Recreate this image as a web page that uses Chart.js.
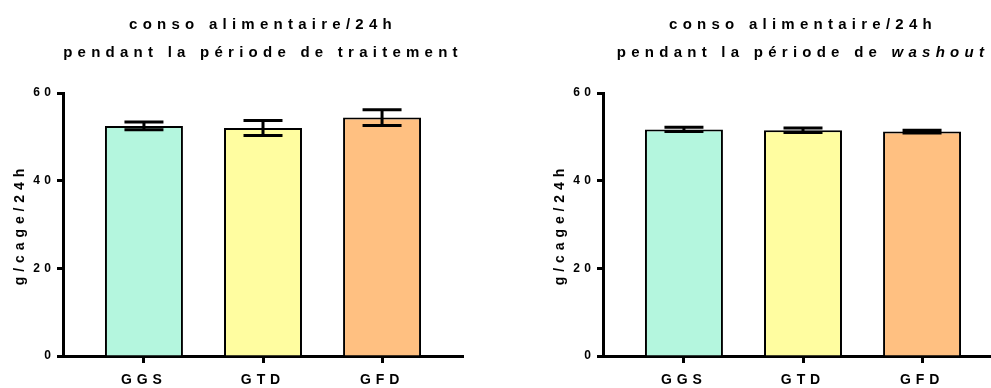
<!DOCTYPE html>
<html>
<head>
<meta charset="utf-8">
<script src="https://cdn.jsdelivr.net/npm/chart.js@4"></script>
<style>
html, body { margin: 0; padding: 0; background: #fff; overflow: hidden; width: 991px; height: 388px; }
.panel { position: absolute; top: 0; width: 480px; height: 388px; }
</style>
</head>
<body>
<div class="panel" style="left:0"><canvas id="chart-treatment" width="480" height="388"></canvas></div>
<div class="panel" style="left:540px"><canvas id="chart-washout" width="480" height="388"></canvas></div>
<script>
// Groups and colours
var groups = ['GGS', 'GTD', 'GFD'];
var group_colors = ['#b4f6de', '#fffda0', '#ffc081'];

// Food intake (g/cage/24h), mean and error bar
var treatment_means = [52.5, 52.0, 54.4];
var treatment_errors = [0.9, 1.7, 1.8];
var washout_means = [51.7, 51.5, 51.2];
var washout_errors = [0.5, 0.5, 0.3];

var y_ticks = [0, 20, 40, 60];
var y_label = 'g/cage/24h';
var treatment_title = [[{ text: 'conso alimentaire/24h' }], [{ text: 'pendant la période de traitement' }]];
var washout_title = [[{ text: 'conso alimentaire/24h' }], [{ text: 'pendant la période de ' }, { text: 'washout', italic: true }]];

var FONT = '"Liberation Sans", Arial, sans-serif';
Chart.defaults.font.family = FONT;
Chart.defaults.font.weight = 'bold';
Chart.defaults.color = '#000';

// wide letter spacing like the original figure
function spacingFor(font) {
    var m = /(\d+(\.\d+)?)px/.exec(font);
    return (m ? parseFloat(m[1]) * 0.35 : 0) + 'px';
}

var spacedText = {
    id: 'spacedText',
    beforeDraw: function (chart) {
        var ctx = chart.ctx;
        if (ctx._spaced) return;
        var fill = ctx.fillText;
        ctx.fillText = function () {
            this.letterSpacing = spacingFor(this.font);
            return fill.apply(this, arguments);
        };
        ctx._spaced = true;
    }
};

// Title with mixed roman / italic pieces
var richTitle = {
    id: 'richTitle',
    afterDraw: function (chart, args, opts) {
        var ctx = chart.ctx, area = chart.chartArea;
        var cx = (area.left + area.right) / 2;
        var fontOf = function (seg) { return (seg.italic ? 'italic ' : '') + 'bold 15px ' + FONT; };
        ctx.save();
        ctx.fillStyle = '#000';
        ctx.textBaseline = 'middle';
        ctx.textAlign = 'left';
        opts.lines.forEach(function (line, i) {
            var w = 0;
            line.forEach(function (seg) {
                ctx.font = fontOf(seg);
                ctx.letterSpacing = spacingFor(ctx.font);
                w += ctx.measureText(seg.text).width;
            });
            var x = cx - w / 2;
            var y = opts.top + i * opts.lineHeight;
            line.forEach(function (seg) {
                ctx.font = fontOf(seg);
                ctx.letterSpacing = spacingFor(ctx.font);
                ctx.fillText(seg.text, x, y);
                x += ctx.measureText(seg.text).width;
            });
        });
        ctx.restore();
    }
};

// Error bars drawn from the y scale
var errorBars = {
    id: 'errorBars',
    afterDatasetsDraw: function (chart) {
        var ctx = chart.ctx, yScale = chart.scales.y;
        chart.data.datasets.forEach(function (ds, di) {
            chart.getDatasetMeta(di).data.forEach(function (bar, i) {
                var hi = yScale.getPixelForValue(ds.data[i].y + ds.errors[i]);
                var lo = yScale.getPixelForValue(ds.data[i].y - ds.errors[i]);
                var half = bar.width / 4;
                ctx.save();
                ctx.strokeStyle = '#000';
                ctx.lineWidth = 3;
                ctx.beginPath();
                ctx.moveTo(bar.x, hi); ctx.lineTo(bar.x, lo);
                ctx.moveTo(bar.x - half, hi); ctx.lineTo(bar.x + half, hi);
                ctx.moveTo(bar.x - half, lo); ctx.lineTo(bar.x + half, lo);
                ctx.stroke();
                ctx.restore();
            });
        });
    }
};

function makeChart(id, means, errors, title) {
    var ctx = document.getElementById(id).getContext('2d');
    return new Chart(ctx, {
        type: 'bar',
        data: {
            datasets: [{
                data: means.map(function (m, i) { return { x: i, y: m }; }),
                errors: errors,
                backgroundColor: group_colors,
                borderColor: '#000',
                borderWidth: 2,
                borderSkipped: 'bottom',
                categoryPercentage: 1,
                barPercentage: 0.655
            }]
        },
        plugins: [spacedText, richTitle, errorBars],
        options: {
            responsive: false,
            animation: false,
            layout: { padding: { top: 93, right: 17, left: 0, bottom: 0 } },
            plugins: {
                legend: { display: false },
                tooltip: { enabled: false },
                richTitle: { lines: title, top: 25, lineHeight: 28 }
            },
            scales: {
                x: {
                    type: 'linear',
                    min: -0.68,
                    max: 2.68,
                    offset: false,
                    afterBuildTicks: function (s) { s.ticks = groups.map(function (g, i) { return { value: i }; }); },
                    afterFit: function (s) { s.height = 32; },
                    ticks: {
                        callback: function (v) { return groups[v]; },
                        font: { size: 14, weight: 'bold' },
                        padding: 9,
                        maxRotation: 0,
                        autoSkip: false
                    },
                    grid: { offset: false, drawOnChartArea: false, tickLength: 7, tickWidth: 3, tickColor: '#000' },
                    border: { color: '#000', width: 3 }
                },
                y: {
                    min: 0,
                    max: 60,
                    afterBuildTicks: function (s) { s.ticks = y_ticks.map(function (v) { return { value: v }; }); },
                    afterFit: function (s) { s.width = 63; },
                    ticks: { font: { size: 12, weight: 'bold' }, padding: 2 },
                    grid: { drawOnChartArea: false, tickLength: 6, tickWidth: 3, tickColor: '#000' },
                    border: { color: '#000', width: 3 },
                    title: { display: true, text: y_label, font: { size: 14, weight: 'bold' }, padding: { top: 12 } }
                }
            }
        }
    });
}

makeChart('chart-treatment', treatment_means, treatment_errors, treatment_title);
makeChart('chart-washout', washout_means, washout_errors, washout_title);
</script>
</body>
</html>
